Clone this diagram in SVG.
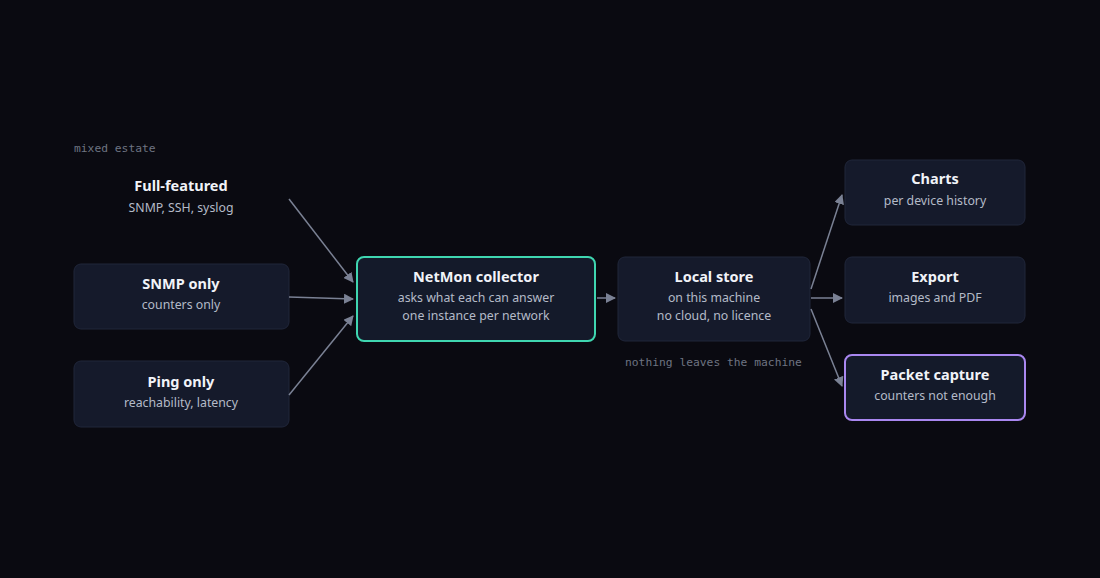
<svg xmlns="http://www.w3.org/2000/svg" width="1100" height="578" viewBox="0 0 1100 578">
<defs>
<style>
.box{fill:#151a2b;stroke:#20263a;stroke-width:1}
.t{font-family:"Noto Sans",sans-serif;font-size:14.5px;font-weight:700;fill:#f1f3f8;text-anchor:middle}
.s{font-family:"Noto Sans",sans-serif;font-size:12.3px;fill:#b4bac8;text-anchor:middle}
.m{font-family:"DejaVu Sans Mono",monospace;font-size:11.3px;fill:#6e7482}
.c{stroke:#7a8194;stroke-width:1.5;fill:none;marker-end:url(#a)}
</style>
<marker id="a" viewBox="0 0 10 10" refX="9" refY="5" markerWidth="10" markerHeight="10" orient="auto" markerUnits="userSpaceOnUse"><path d="M0,0L10,5L0,10z" fill="#7a8194"/></marker>
</defs>
<rect width="1100" height="578" fill="#0a0a11"/>
<text class="m" x="74" y="152">mixed estate</text>
<text class="m" x="625" y="366">nothing leaves the machine</text>
<g id="full"><text class="t" x="181" y="191">Full-featured</text><text class="s" x="181" y="212">SNMP, SSH, syslog</text></g>
<g id="snmp"><rect class="box" x="74" y="264" width="215" height="65" rx="7"/><text class="t" x="181" y="289">SNMP only</text><text class="s" x="181" y="309">counters only</text></g>
<g id="ping"><rect class="box" x="74" y="361" width="215" height="66" rx="7"/><text class="t" x="181" y="387">Ping only</text><text class="s" x="181" y="407">reachability, latency</text></g>
<g id="netmon"><rect x="357" y="257" width="238" height="84" rx="7" fill="#141a2a" stroke="#3fd6b0" stroke-width="2"/><text class="t" x="476" y="282">NetMon collector</text><text class="s" x="476" y="302">asks what each can answer</text><text class="s" x="476" y="320">one instance per network</text></g>
<g id="store"><rect class="box" x="618" y="257" width="192" height="84" rx="7"/><text class="t" x="714" y="282">Local store</text><text class="s" x="714" y="302">on this machine</text><text class="s" x="714" y="320">no cloud, no licence</text></g>
<g id="charts"><rect class="box" x="845" y="160" width="180" height="65" rx="7"/><text class="t" x="935" y="184">Charts</text><text class="s" x="935" y="205">per device history</text></g>
<g id="export"><rect class="box" x="845" y="257" width="180" height="66" rx="7"/><text class="t" x="935" y="282">Export</text><text class="s" x="935" y="302">images and PDF</text></g>
<g id="packet"><rect x="845" y="355" width="180" height="65" rx="7" fill="#141a2a" stroke="#a987f0" stroke-width="2"/><text class="t" x="935" y="380">Packet capture</text><text class="s" x="935" y="400">counters not enough</text></g>
<g id="connectors">
<line class="c" x1="289" y1="199" x2="353" y2="282"/>
<line class="c" x1="289" y1="297" x2="353" y2="299"/>
<line class="c" x1="289" y1="395" x2="353" y2="316"/>
<line class="c" x1="597" y1="298" x2="615" y2="298"/>
<line class="c" x1="811" y1="289" x2="842" y2="195"/>
<line class="c" x1="811" y1="298" x2="842" y2="298"/>
<line class="c" x1="811" y1="309" x2="842" y2="386"/>
</g>
</svg>
